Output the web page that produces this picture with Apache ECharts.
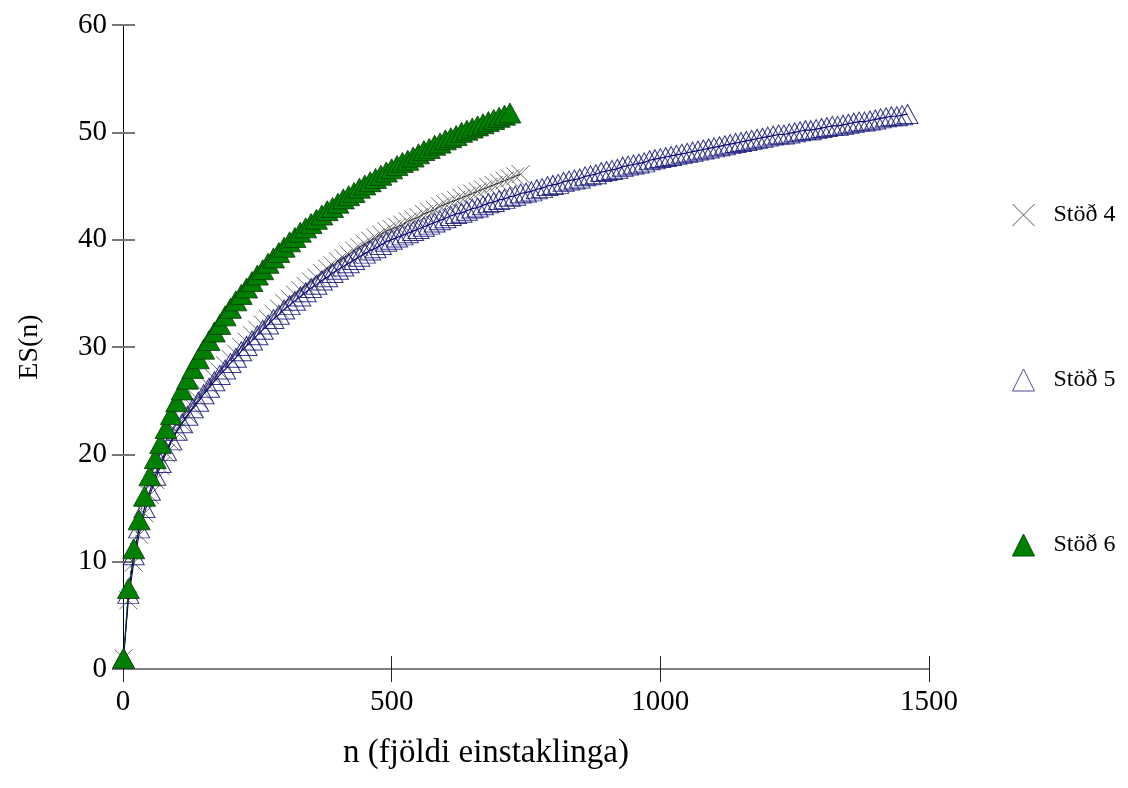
<!DOCTYPE html>
<html>
<head>
<meta charset="utf-8">
<script src="https://cdn.jsdelivr.net/npm/echarts@6/dist/echarts.min.js"></script>
<style>
html,body{margin:0;padding:0;background:#fff;}
#chart{width:1128px;height:788px;}
</style>
</head>
<body>
<div id="chart"></div>
<script>
// sample sizes n (markers every 10 individuals)
const sampleSizes = [1,10,20,30,40,50,60,70,80,90,100,110,120,130,140,150,160,170,180,190,200,
210,220,230,240,250,260,270,280,290,300,310,320,330,340,350,360,370,380,390,400,
410,420,430,440,450,460,470,480,490,500,510,520,530,540,550,560,570,580,590,600,
610,620,630,640,650,660,670,680,690,700,710,720,730,740,750,760,770,780,790,800,
810,820,830,840,850,860,870,880,890,900,910,920,930,940,950,960,970,980,990,1000,
1010,1020,1030,1040,1050,1060,1070,1080,1090,1100,1110,1120,1130,1140,1150,1160,1170,1180,1190,1200,
1210,1220,1230,1240,1250,1260,1270,1280,1290,1300,1310,1320,1330,1340,1350,1360,1370,1380,1390,1400,
1410,1420,1430,1440,1450,1460];

const seriesNames = ['Stöð 4','Stöð 5','Stöð 6'];

const es4 = [1.0,6.4,9.9,12.5,14.5,16.2,17.6,18.9,20.1,21.1,22.1,22.9,23.7,24.4,25.1,25.8,26.4,27.1,27.7,28.3,28.9,
29.4,30.0,30.5,31.1,31.6,32.1,32.6,33.1,33.6,34.1,34.5,34.9,35.3,35.7,36.1,36.5,36.9,37.3,37.6,38.0,
38.3,38.6,39.0,39.3,39.6,39.9,40.2,40.5,40.8,41.0,41.2,41.4,41.7,41.9,42.1,42.4,42.6,42.8,43.1,43.3,
43.5,43.7,43.9,44.1,44.3,44.5,44.7,44.9,45.1,45.3,45.5,45.7,45.9,46.1];

const es5 = [1.0,7.0,10.6,13.1,15.0,16.6,18.0,19.2,20.3,21.3,22.2,22.9,23.6,24.3,24.9,25.6,26.2,26.8,27.4,27.9,28.5,
29.0,29.6,30.1,30.6,31.1,31.6,32.1,32.6,33.0,33.5,33.9,34.3,34.7,35.1,35.5,35.8,36.2,36.5,36.9,37.2,
37.5,37.8,38.1,38.4,38.7,39.0,39.2,39.5,39.8,40.0,40.2,40.4,40.6,40.8,41.0,41.2,41.4,41.6,41.8,42.0,
42.2,42.4,42.5,42.7,42.9,43.0,43.2,43.4,43.5,43.7,43.8,44.0,44.1,44.3,44.4,44.5,44.7,44.8,45.0,45.1,
45.2,45.4,45.5,45.6,45.7,45.9,46.0,46.1,46.3,46.4,46.5,46.6,46.8,46.9,47.0,47.1,47.2,47.4,47.5,47.6,
47.7,47.8,47.9,48.0,48.1,48.2,48.3,48.4,48.5,48.6,48.7,48.8,48.9,49.0,49.1,49.2,49.3,49.4,49.5,49.6,
49.7,49.8,49.8,49.9,50.0,50.1,50.2,50.2,50.3,50.4,50.5,50.6,50.6,50.7,50.8,50.9,51.0,51.0,51.1,51.2,
51.3,51.4,51.5,51.5,51.6,51.7];

const es6 = [1.0,7.5,11.2,13.9,16.1,18.0,19.6,21.0,22.4,23.7,24.9,26.0,27.0,28.0,28.9,29.8,30.6,31.4,32.1,32.9,33.6,
34.3,34.9,35.5,36.1,36.7,37.2,37.8,38.3,38.8,39.3,39.8,40.2,40.7,41.1,41.5,41.9,42.3,42.7,43.0,43.4,
43.8,44.1,44.4,44.8,45.1,45.4,45.7,46.0,46.3,46.6,46.9,47.2,47.4,47.7,48.0,48.3,48.5,48.8,49.0,49.3,
49.5,49.7,50.0,50.2,50.4,50.6,50.8,51.0,51.2,51.4,51.6,51.8];

const xTicks = [0, 500, 1000, 1500];
const yTicks = [0, 10, 20, 30, 40, 50, 60];

function pairs(vals){ return vals.map((v,i)=>[sampleSizes[i], v]); }

const crossPath = 'path://M0,0L10,10M10,0L0,10';
const serif = '"Liberation Serif", "DejaVu Serif", serif';

const chart = echarts.init(document.getElementById('chart'), null, {renderer:'canvas'});
chart.setOption({
  animation: false,
  backgroundColor: '#ffffff',
  grid: {left: 123, right: 199, top: 25, bottom: 119, containLabel: false},
  legend: {
    orient: 'vertical',
    left: 1007,
    top: 198,
    itemGap: 141,
    itemWidth: 22,
    itemHeight: 22,
    textStyle: {fontFamily: serif, fontSize: 24, lineHeight: 24, color: '#000', padding: [0,0,0,14]},
    data: [
      {name: seriesNames[0], icon: crossPath, itemStyle: {color: 'rgba(0,0,0,0)', borderColor: '#555', borderWidth: 1}},
      {name: seriesNames[1], icon: 'triangle', itemStyle: {color: 'rgba(0,0,0,0)', borderColor: '#4a4a90', borderWidth: 1}},
      {name: seriesNames[2], icon: 'triangle', itemStyle: {color: '#008000', borderColor: '#004d00', borderWidth: 1}}
    ]
  },
  xAxis: [{
    type: 'value', min: xTicks[0], max: xTicks[xTicks.length-1], interval: 500,
    name: 'n (fjöldi einstaklinga)', nameLocation: 'middle', nameGap: 68,
    nameTextStyle: {fontFamily: serif, fontSize: 33, color: '#000', padding: [0, 80, 0, 0]},
    axisLine: {show: true, onZero: false, lineStyle: {color: '#808080', width: 2}},
    axisTick: {show: true, inside: true, length: 13, lineStyle: {color: '#222', width: 1}},
    axisLabel: {fontFamily: serif, fontSize: 29, color: '#000', margin: 19,
      formatter: v => xTicks.includes(v) ? String(v) : ''},
    splitLine: {show: false}
  },{
    type: 'value', min: 0, max: 1500, interval: 500, position: 'bottom',
    axisLine: {show: false},
    axisTick: {show: true, inside: false, length: 13, lineStyle: {color: '#222', width: 1}},
    axisLabel: {show: false},
    splitLine: {show: false}
  }],
  yAxis: [{
    type: 'value', min: yTicks[0], max: yTicks[yTicks.length-1], interval: 10,
    name: 'ES(n)', nameLocation: 'middle', nameGap: 79,
    nameTextStyle: {fontFamily: serif, fontSize: 28, color: '#000'},
    axisLine: {show: true, lineStyle: {color: '#000', width: 1}},
    axisTick: {show: true, inside: false, length: 11, lineStyle: {color: '#777', width: 2}},
    axisLabel: {fontFamily: serif, fontSize: 29, color: '#000', margin: 16,
      formatter: v => yTicks.includes(v) ? String(v) : ''},
    splitLine: {show: false}
  },{
    type: 'value', min: 0, max: 60, interval: 10, position: 'left',
    axisLine: {show: false},
    axisTick: {show: true, inside: true, length: 12, lineStyle: {color: '#777', width: 2}},
    axisLabel: {show: false},
    splitLine: {show: false}
  }],
  series: [
    {
      name: seriesNames[0], type: 'line', data: pairs(es4),
      symbol: crossPath, symbolSize: 18,
      itemStyle: {color: 'rgba(0,0,0,0)', borderColor: '#6e6e6e', borderWidth: 1},
      lineStyle: {color: '#000', width: 1},
      z: 2
    },
    {
      name: seriesNames[1], type: 'line', data: pairs(es5),
      symbol: 'triangle', symbolSize: [21, 19],
      itemStyle: {color: 'rgba(0,0,0,0)', borderColor: 'rgba(20,20,120,0.85)', borderWidth: 1},
      lineStyle: {color: '#000080', width: 1.2},
      z: 3
    },
    {
      name: seriesNames[2], type: 'line', data: pairs(es6),
      symbol: 'triangle', symbolSize: [22, 20],
      itemStyle: {color: '#008000', borderColor: '#0a3a0a', borderWidth: 0.8},
      lineStyle: {color: '#0a5a0a', width: 1, type: 'dashed'},
      z: 4
    }
  ]
});
</script>
</body>
</html>
